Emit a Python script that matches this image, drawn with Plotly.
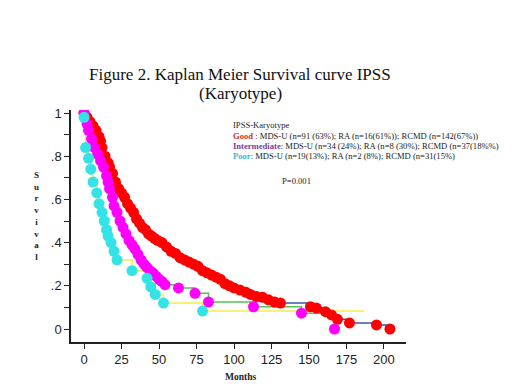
import plotly.graph_objects as go

# ---------------- data ----------------
good_t = [0, 2, 4, 6, 8, 10, 11, 12, 14, 16, 17, 19, 21, 23, 25, 27, 29, 31, 33, 35,
          37, 39, 41, 43, 45, 47, 49, 52, 55, 58, 61, 64, 67, 70, 73, 76, 79, 82, 85, 88,
          91, 94, 97, 100, 104, 108, 111, 115, 119, 123, 127, 131, 151, 155, 161, 165,
          169, 177, 195, 204]
good_s = [1.00, 0.98, 0.96, 0.94, 0.92, 0.89, 0.87, 0.84, 0.80, 0.77, 0.75, 0.72, 0.68,
          0.65, 0.63, 0.61, 0.58, 0.56, 0.54, 0.51, 0.49, 0.47, 0.46, 0.44, 0.43, 0.42,
          0.41, 0.40, 0.38, 0.36, 0.35, 0.33, 0.32, 0.31, 0.30, 0.29, 0.27, 0.26, 0.25,
          0.24, 0.23, 0.21, 0.20, 0.19, 0.18, 0.17, 0.16, 0.15, 0.147, 0.135, 0.125,
          0.12, 0.103, 0.097, 0.08, 0.065, 0.045, 0.028, 0.019, 0.0]

inter_t = [0, 2, 3, 5, 7, 9, 11, 13, 15, 16, 17, 19, 20, 22, 24, 26, 28, 30, 32, 34,
           36, 38, 40, 42, 44, 46, 48, 50, 52, 54, 63, 74, 83, 113, 145, 167]
inter_s = [1.00, 0.95, 0.92, 0.88, 0.84, 0.81, 0.78, 0.75, 0.71, 0.68, 0.65, 0.61, 0.57,
           0.54, 0.50, 0.47, 0.44, 0.41, 0.39, 0.37, 0.345, 0.32, 0.30, 0.285, 0.27,
           0.26, 0.245, 0.23, 0.22, 0.205, 0.19, 0.165, 0.125, 0.103, 0.073, 0.0]

poor_t = [0, 1, 3, 4.5, 6, 8.5, 10, 12, 13.5, 15, 16, 18, 20, 22, 32, 42, 44.5, 47.5,
          53, 79]
poor_s = [0.98, 0.84, 0.79, 0.74, 0.68, 0.63, 0.58, 0.54, 0.50, 0.46, 0.43, 0.40, 0.36,
          0.32, 0.27, 0.235, 0.195, 0.16, 0.12, 0.083]
poor_last_t = 187  # end of the follow-up line for the Poor group

x_ticks = [0, 25, 50, 75, 100, 125, 150, 175, 200]
y_ticks = [0, 0.2, 0.4, 0.6, 0.8, 1.0]
y_tick_text = ["0", ".2", ".4", ".6", ".8", "1"]

title_lines = ["Figure 2. Kaplan Meier Survival curve IPSS", "(Karyotype)"]
legend_head = "IPSS-Karyotype"
legend_rows = [
    ("Good", "#d0312d", " : MDS-U (n=91 (63%); RA (n=16(61%)); RCMD (n=142(67%))"),
    ("Intermediate", "#7a3d9e", ": MDS-U (n=34 (24%); RA (n=8 (30%); RCMD (n=37(18%%)"),
    ("Poor", "#4bb4cf", ": MDS-U (n=19(13%); RA (n=2 (8%); RCMD (n=31(15%)"),
]
p_text = "P=0.001"

# ---------------- layout geometry (page pixels; the page body adds an 8 px offset) ----------------
OFF = 8
W, H = 520, 390
AX_L, AX_R, AX_T, AX_B = 71, 406, 110, 342  # plot-area edges in page pixels
L, T = AX_L - OFF, AX_T - OFF
R = W - (AX_R - OFF)
B = H - (AX_B - OFF)
PW, PH = AX_R - AX_L, AX_B - AX_T


def px(x, y):
    return (x - AX_L) / PW, (AX_B - y) / PH


fig = go.Figure()

# step lines (under markers)
fig.add_trace(go.Scatter(x=good_t, y=good_s, mode="lines", line=dict(shape="hv", color="#3b55b0", width=1.5),
                         hoverinfo="skip", showlegend=False))
fig.add_trace(go.Scatter(x=inter_t, y=inter_s, mode="lines", line=dict(shape="hv", color="#55c255", width=1.5),
                         hoverinfo="skip", showlegend=False))
fig.add_trace(go.Scatter(x=poor_t + [poor_last_t], y=poor_s + [poor_s[-1]], mode="lines",
                         line=dict(shape="hv", color="#f2ef4a", width=1.5),
                         hoverinfo="skip", showlegend=False))

# markers
fig.add_trace(go.Scatter(x=good_t, y=good_s, mode="markers",
                         marker=dict(color="#ff0000", size=11, line=dict(width=0)), showlegend=False))
fig.add_trace(go.Scatter(x=inter_t, y=inter_s, mode="markers",
                         marker=dict(color="#ff00ff", size=11, line=dict(width=0)), showlegend=False))
fig.add_trace(go.Scatter(x=poor_t, y=poor_s, mode="markers",
                         marker=dict(color="#33e3e6", size=11, line=dict(width=0)), showlegend=False))

annotations = []
serif = "Liberation Serif, Times New Roman, serif"

# title
for i, line in enumerate(title_lines):
    xp, yp = px(240, 75 + 18 * i)
    annotations.append(dict(x=xp, y=yp, xref="paper", yref="paper", text=line, showarrow=False,
                            xanchor="center", yanchor="middle",
                            font=dict(family=serif, size=17, color="#111")))

# legend block
LEG_SIZE = 8.6
xp, yp = px(231, 125)
annotations.append(dict(x=xp, y=yp, xref="paper", yref="paper", text=legend_head, showarrow=False,
                        xanchor="left", yanchor="middle", font=dict(family=serif, size=LEG_SIZE, color="#222")))
for i, (name, col, rest) in enumerate(legend_rows):
    xp, yp = px(231, 136 + 10 * i)
    annotations.append(dict(x=xp, y=yp, xref="paper", yref="paper",
                            text=f"<b><span style='color:{col}'>{name}</span></b>{rest}",
                            showarrow=False, xanchor="left", yanchor="middle",
                            font=dict(family=serif, size=LEG_SIZE, color="#222")))

xp, yp = px(296, 181)
annotations.append(dict(x=xp, y=yp, xref="paper", yref="paper", text=p_text, showarrow=False,
                        xanchor="center", yanchor="middle", font=dict(family=serif, size=LEG_SIZE, color="#222")))

# axis titles
xp, yp = px(36, 216)
annotations.append(dict(x=xp, y=yp, xref="paper", yref="paper", text="<b>" + "<br>".join("Survival") + "</b>",
                        showarrow=False, xanchor="center", yanchor="middle",
                        font=dict(family=serif, size=9, color="#222"), align="center"))
xp, yp = px(240, 377)
annotations.append(dict(x=xp, y=yp, xref="paper", yref="paper", text="<b>Months</b>", showarrow=False,
                        xanchor="center", yanchor="middle", font=dict(family=serif, size=9.5, color="#222")))

tickfont = dict(family="Liberation Sans, Arial, sans-serif", size=13, color="#222")
fig.update_layout(
    width=W, height=H, margin=dict(l=L, r=R, t=T, b=B, pad=0),
    paper_bgcolor="white", plot_bgcolor="white",
    annotations=annotations, showlegend=False,
    xaxis=dict(range=[-8.7, 214.7], tickvals=x_ticks, ticks="outside", ticklen=5, tickwidth=1.3,
               tickcolor="#222", showline=True, linecolor="#222", linewidth=1.5, showgrid=False,
               zeroline=False, tickfont=tickfont),
    yaxis=dict(range=[-0.0602, 1.0139], tickvals=y_ticks, ticktext=y_tick_text, ticks="outside",
               ticklen=5, tickwidth=1.3, tickcolor="#222", showline=True, linecolor="#222", linewidth=1.5,
               showgrid=False, zeroline=False, tickfont=tickfont,
               minor=dict(dtick=0.1, tick0=0, ticks="outside", ticklen=5, tickcolor="#222", tickwidth=1.3)),
)

fig.write_html("out.html")
